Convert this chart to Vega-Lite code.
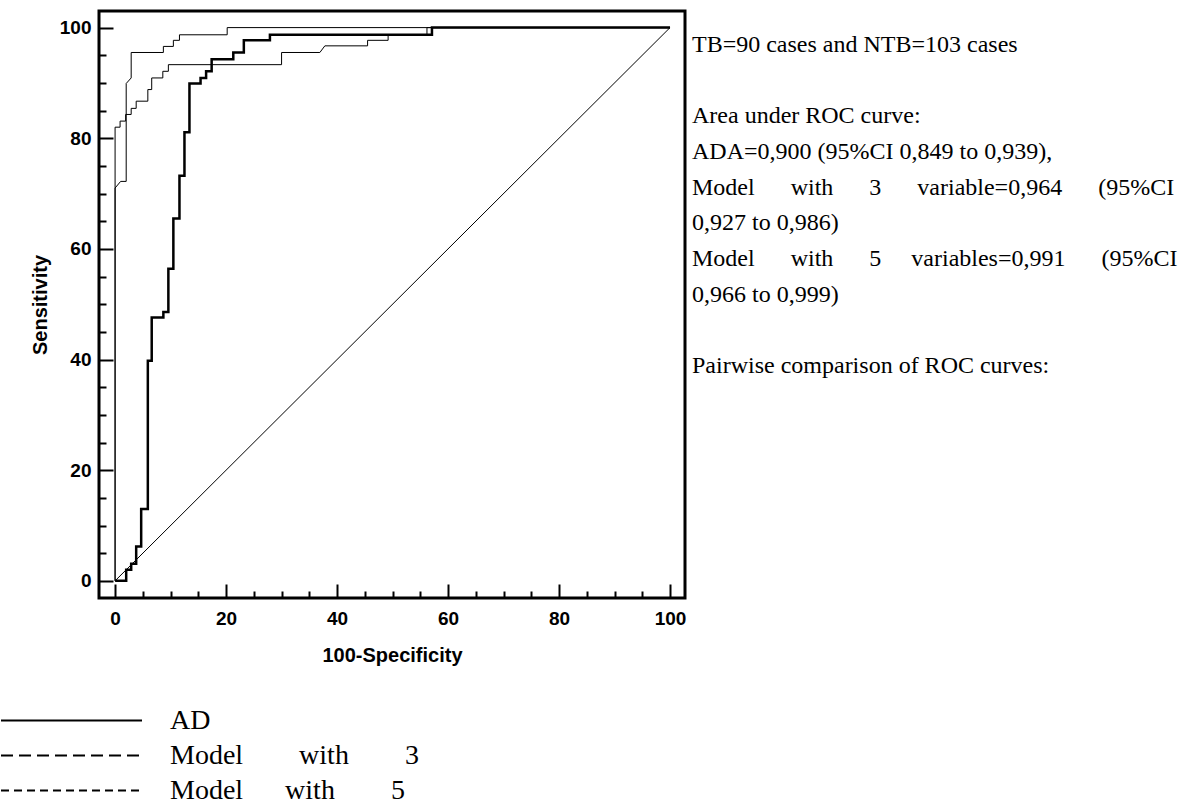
{
  "$schema": "https://vega.github.io/schema/vega-lite/v6.json",
  "width": 586,
  "height": 587,
  "autosize": "none",
  "padding": {"left": 99, "top": 11, "right": 502, "bottom": 210},
  "background": "white",
  "config": {
    "view": {"stroke": "black", "strokeWidth": 3},
    "axis": {
      "grid": false,
      "domain": false,
      "tickColor": "black",
      "tickWidth": 2,
      "labelFont": "Liberation Sans",
      "labelFontWeight": "bold",
      "labelFontSize": 19,
      "labelColor": "black",
      "titleFont": "Liberation Sans",
      "titleFontWeight": "bold",
      "titleFontSize": 20,
      "titleColor": "black",
      "labelFlush": false,
      "labelOverlap": false
    }
  },
  "datasets": {
    "roc": [
      {"series": "AD", "i": 1, "fpr": 0, "tpr": 0},
      {"series": "AD", "i": 2, "fpr": 2.0, "tpr": 0},
      {"series": "AD", "i": 3, "fpr": 2.0, "tpr": 2.0},
      {"series": "AD", "i": 4, "fpr": 2.9, "tpr": 2.0},
      {"series": "AD", "i": 5, "fpr": 2.9, "tpr": 3.1},
      {"series": "AD", "i": 6, "fpr": 3.8, "tpr": 3.1},
      {"series": "AD", "i": 7, "fpr": 3.8, "tpr": 6.2},
      {"series": "AD", "i": 8, "fpr": 4.7, "tpr": 6.2},
      {"series": "AD", "i": 9, "fpr": 4.7, "tpr": 13.0},
      {"series": "AD", "i": 10, "fpr": 5.9, "tpr": 13.0},
      {"series": "AD", "i": 11, "fpr": 5.9, "tpr": 39.8},
      {"series": "AD", "i": 12, "fpr": 6.6, "tpr": 39.8},
      {"series": "AD", "i": 13, "fpr": 6.6, "tpr": 47.6},
      {"series": "AD", "i": 14, "fpr": 8.7, "tpr": 47.6},
      {"series": "AD", "i": 15, "fpr": 8.7, "tpr": 48.6},
      {"series": "AD", "i": 16, "fpr": 9.6, "tpr": 48.6},
      {"series": "AD", "i": 17, "fpr": 9.6, "tpr": 56.4},
      {"series": "AD", "i": 18, "fpr": 10.5, "tpr": 56.4},
      {"series": "AD", "i": 19, "fpr": 10.5, "tpr": 65.5},
      {"series": "AD", "i": 20, "fpr": 11.6, "tpr": 65.5},
      {"series": "AD", "i": 21, "fpr": 11.6, "tpr": 73.2},
      {"series": "AD", "i": 22, "fpr": 12.5, "tpr": 73.2},
      {"series": "AD", "i": 23, "fpr": 12.5, "tpr": 81.1},
      {"series": "AD", "i": 24, "fpr": 13.4, "tpr": 81.1},
      {"series": "AD", "i": 25, "fpr": 13.4, "tpr": 89.9},
      {"series": "AD", "i": 26, "fpr": 15.4, "tpr": 89.9},
      {"series": "AD", "i": 27, "fpr": 15.4, "tpr": 90.9},
      {"series": "AD", "i": 28, "fpr": 16.4, "tpr": 90.9},
      {"series": "AD", "i": 29, "fpr": 16.4, "tpr": 92.1},
      {"series": "AD", "i": 30, "fpr": 17.4, "tpr": 92.1},
      {"series": "AD", "i": 31, "fpr": 17.4, "tpr": 94.3},
      {"series": "AD", "i": 32, "fpr": 21.3, "tpr": 94.3},
      {"series": "AD", "i": 33, "fpr": 21.3, "tpr": 95.5},
      {"series": "AD", "i": 34, "fpr": 23.2, "tpr": 95.5},
      {"series": "AD", "i": 35, "fpr": 23.2, "tpr": 97.7},
      {"series": "AD", "i": 36, "fpr": 27.9, "tpr": 97.7},
      {"series": "AD", "i": 37, "fpr": 27.9, "tpr": 98.7},
      {"series": "AD", "i": 38, "fpr": 57.1, "tpr": 98.7},
      {"series": "AD", "i": 39, "fpr": 57.1, "tpr": 100},
      {"series": "AD", "i": 40, "fpr": 100, "tpr": 100},

      {"series": "Model with 3", "i": 1, "fpr": 0, "tpr": 0},
      {"series": "Model with 3", "i": 2, "fpr": 0, "tpr": 82.0},
      {"series": "Model with 3", "i": 3, "fpr": 0.9, "tpr": 82.0},
      {"series": "Model with 3", "i": 4, "fpr": 0.9, "tpr": 83.1},
      {"series": "Model with 3", "i": 5, "fpr": 1.9, "tpr": 83.1},
      {"series": "Model with 3", "i": 6, "fpr": 1.9, "tpr": 84.3},
      {"series": "Model with 3", "i": 7, "fpr": 2.9, "tpr": 84.3},
      {"series": "Model with 3", "i": 8, "fpr": 2.9, "tpr": 85.4},
      {"series": "Model with 3", "i": 9, "fpr": 3.8, "tpr": 85.4},
      {"series": "Model with 3", "i": 10, "fpr": 3.8, "tpr": 86.7},
      {"series": "Model with 3", "i": 11, "fpr": 5.9, "tpr": 86.7},
      {"series": "Model with 3", "i": 12, "fpr": 5.9, "tpr": 88.8},
      {"series": "Model with 3", "i": 13, "fpr": 6.6, "tpr": 88.8},
      {"series": "Model with 3", "i": 14, "fpr": 6.6, "tpr": 90.9},
      {"series": "Model with 3", "i": 15, "fpr": 8.6, "tpr": 90.9},
      {"series": "Model with 3", "i": 16, "fpr": 8.6, "tpr": 92.1},
      {"series": "Model with 3", "i": 17, "fpr": 9.6, "tpr": 92.1},
      {"series": "Model with 3", "i": 18, "fpr": 9.6, "tpr": 93.3},
      {"series": "Model with 3", "i": 19, "fpr": 30.0, "tpr": 93.3},
      {"series": "Model with 3", "i": 20, "fpr": 30.0, "tpr": 95.5},
      {"series": "Model with 3", "i": 21, "fpr": 36.9, "tpr": 95.5},
      {"series": "Model with 3", "i": 22, "fpr": 37.8, "tpr": 96.7},
      {"series": "Model with 3", "i": 23, "fpr": 45.5, "tpr": 96.7},
      {"series": "Model with 3", "i": 24, "fpr": 45.5, "tpr": 97.7},
      {"series": "Model with 3", "i": 25, "fpr": 49.2, "tpr": 97.7},
      {"series": "Model with 3", "i": 26, "fpr": 49.2, "tpr": 98.7},
      {"series": "Model with 3", "i": 27, "fpr": 56.2, "tpr": 98.7},
      {"series": "Model with 3", "i": 28, "fpr": 56.2, "tpr": 100},
      {"series": "Model with 3", "i": 29, "fpr": 100, "tpr": 100},

      {"series": "Model with 5", "i": 1, "fpr": 0, "tpr": 0},
      {"series": "Model with 5", "i": 2, "fpr": 0, "tpr": 71.0},
      {"series": "Model with 5", "i": 3, "fpr": 1.0, "tpr": 72.2},
      {"series": "Model with 5", "i": 4, "fpr": 2.0, "tpr": 72.2},
      {"series": "Model with 5", "i": 5, "fpr": 2.0, "tpr": 89.9},
      {"series": "Model with 5", "i": 6, "fpr": 2.9, "tpr": 90.9},
      {"series": "Model with 5", "i": 7, "fpr": 2.9, "tpr": 95.5},
      {"series": "Model with 5", "i": 8, "fpr": 8.7, "tpr": 95.5},
      {"series": "Model with 5", "i": 9, "fpr": 8.7, "tpr": 96.6},
      {"series": "Model with 5", "i": 10, "fpr": 10.5, "tpr": 96.6},
      {"series": "Model with 5", "i": 11, "fpr": 10.5, "tpr": 97.7},
      {"series": "Model with 5", "i": 12, "fpr": 11.6, "tpr": 97.7},
      {"series": "Model with 5", "i": 13, "fpr": 11.6, "tpr": 98.7},
      {"series": "Model with 5", "i": 14, "fpr": 20.2, "tpr": 98.7},
      {"series": "Model with 5", "i": 15, "fpr": 20.2, "tpr": 100},
      {"series": "Model with 5", "i": 16, "fpr": 100, "tpr": 100}
    ],
    "diagonal": [
      {"fpr": 0, "tpr": 0},
      {"fpr": 100, "tpr": 100}
    ],
    "notes": [
      {"line": 0, "text": "TB=90 cases and NTB=103 cases"},
      {"line": 2, "text": "Area under ROC curve:"},
      {"line": 3, "text": "ADA=0,900 (95%CI 0,849 to 0,939),"},
      {"line": 4, "text": "Model\u00a0\u00a0\u00a0\u00a0\u00a0\u00a0with\u00a0\u00a0\u00a0\u00a0\u00a0\u00a03\u00a0\u00a0\u00a0\u00a0\u00a0\u00a0variable=0,964\u00a0\u00a0\u00a0\u00a0\u00a0\u00a0(95%CI"},
      {"line": 5, "text": "0,927 to 0,986)"},
      {"line": 6, "text": "Model\u00a0\u00a0\u00a0\u00a0\u00a0\u00a0with\u00a0\u00a0\u00a0\u00a0\u00a0\u00a05\u00a0\u00a0\u00a0\u00a0\u00a0variables=0,991\u00a0\u00a0\u00a0\u00a0\u00a0\u00a0(95%CI"},
      {"line": 7, "text": "0,966 to 0,999)"},
      {"line": 9, "text": "Pairwise comparison of ROC curves:"}
    ]
  },
  "resolve": {
    "scale": {"y": "independent"},
    "axis": {"x": "independent", "y": "independent"}
  },
  "layer": [
    {
      "data": {"name": "diagonal"},
      "mark": {"type": "line", "color": "black", "strokeWidth": 1},
      "encoding": {
        "x": {
          "field": "fpr", "type": "quantitative",
          "scale": {"domain": [-2.9, 102.7], "nice": false, "zero": false},
          "axis": {"orient": "bottom", "values": [5, 10, 15, 25, 30, 35, 45, 50, 55, 65, 70, 75, 85, 90, 95], "tickSize": -7, "labels": false, "title": null}
        },
        "y": {
          "field": "tpr", "type": "quantitative",
          "scale": {"domain": [-3.1, 103], "nice": false, "zero": false},
          "axis": {"orient": "left", "values": [5, 10, 15, 25, 30, 35, 45, 50, 55, 65, 70, 75, 85, 90, 95], "tickSize": -7, "labels": false, "title": null}
        }
      }
    },
    {
      "data": {"name": "roc"},
      "mark": {"type": "line", "interpolate": "linear"},
      "encoding": {
        "x": {
          "field": "fpr", "type": "quantitative",
          "scale": {"domain": [-2.9, 102.7], "nice": false, "zero": false},
          "axis": {"orient": "bottom", "values": [0, 20, 40, 60, 80, 100], "tickSize": -14, "labelPadding": 25, "title": "100-Specificity", "titlePadding": 17}
        },
        "y": {
          "field": "tpr", "type": "quantitative",
          "scale": {"domain": [-3.1, 103], "nice": false, "zero": false},
          "axis": {"orient": "left", "values": [0, 20, 40, 60, 80, 100], "tickSize": -14, "labelPadding": 22, "title": "Sensitivity", "titlePadding": 9}
        },
        "order": {"field": "i", "type": "quantitative"},
        "color": {
          "field": "series", "type": "nominal",
          "scale": {"domain": ["AD", "Model with 3", "Model with 5"], "range": ["black", "black", "black"]},
          "legend": {
            "orient": "none",
            "legendX": -99,
            "legendY": 692,
            "title": null,
            "padding": 0,
            "rowPadding": 0,
            "clipHeight": 35,
            "symbolType": "M-1,0H1",
            "symbolSize": 19881,
            "symbolStrokeWidth": 2,
            "symbolStrokeColor": "black",
            "symbolFillColor": "transparent",
            "labelFont": "Liberation Serif",
            "labelFontSize": 28,
            "labelColor": "black",
            "labelOffset": 27,
            "labelLimit": 0,
            "labelExpr": "datum.value == 'AD' ? 'AD' : datum.value == 'Model with 3' ? 'Model\u00a0\u00a0\u00a0\u00a0\u00a0\u00a0\u00a0\u00a0with\u00a0\u00a0\u00a0\u00a0\u00a0\u00a0\u00a0\u00a03' : 'Model\u00a0\u00a0\u00a0\u00a0\u00a0\u00a0with\u00a0\u00a0\u00a0\u00a0\u00a0\u00a0\u00a0\u00a05'",
            "encode": {
              "symbols": {
                "update": {
                  "strokeWidth": {"value": 2},
                  "strokeDash": {"signal": "datum.value == 'AD' ? [1, 0] : datum.value == 'Model with 3' ? [12, 6] : [8, 5]"}
                }
              }
            }
          }
        },
        "strokeWidth": {
          "condition": {"test": "datum.series == 'AD'", "value": 2.5},
          "value": 1
        }
      }
    },
    {
      "data": {"name": "notes"},
      "mark": {"type": "text", "align": "left", "baseline": "middle", "font": "Liberation Serif", "fontSize": 24, "color": "black", "dx": 7},
      "encoding": {
        "x": {"value": "width"},
        "y": {
          "field": "line", "type": "quantitative",
          "scale": {"domain": [-0.95, 15.5], "reverse": true, "nice": false, "zero": false},
          "axis": null
        },
        "text": {"field": "text"}
      }
    }
  ]
}
